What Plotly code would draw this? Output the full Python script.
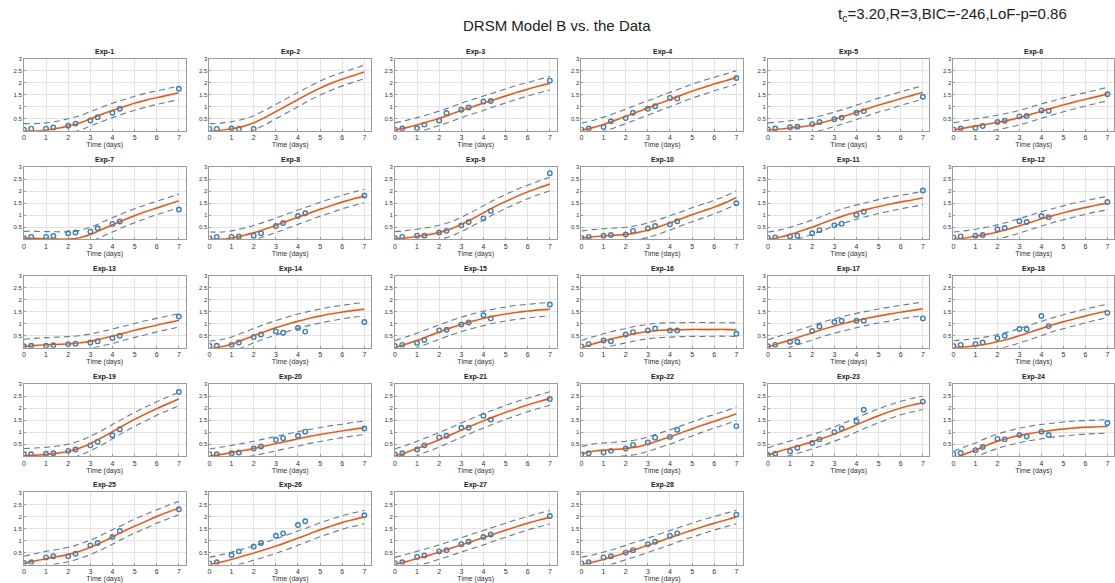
import plotly.graph_objects as go

# ---------------- data ----------------
T_DATA = [0, 0.33, 1, 1.33, 2, 2.33, 3, 3.33, 4, 4.33, 7]
T_MODEL = [0, 0.5, 1, 1.5, 2, 2.5, 3, 3.5, 4, 4.5, 5, 5.5, 6, 6.5, 7]
CI_HALF = [0.30, 0.30, 0.30, 0.30, 0.30, 0.30, 0.30, 0.30, 0.30, 0.29, 0.29, 0.29, 0.28, 0.28, 0.28]

EXP_NAMES = [f"Exp-{i}" for i in range(1, 29)]

obs_1 = [0.05, 0.09, 0.09, 0.14, 0.21, 0.30, 0.43, 0.57, 0.75, 0.92, 1.75]
obs_2 = [0.08, 0.08, 0.10, 0.08, 0.08]
obs_3 = [0.05, 0.10, 0.11, 0.26, 0.43, 0.74, 0.88, 0.97, 1.22, 1.24, 2.09]
obs_4 = [0.05, 0.10, 0.16, 0.40, 0.53, 0.75, 0.92, 1.02, 1.37, 1.35, 2.20]
obs_5 = [0.06, 0.10, 0.15, 0.17, 0.28, 0.37, 0.48, 0.55, 0.75, 0.82, 1.42]
obs_6 = [0.06, 0.10, 0.12, 0.20, 0.37, 0.42, 0.60, 0.62, 0.85, 0.83, 1.52]
obs_7 = [0.04, 0.10, 0.10, 0.14, 0.25, 0.28, 0.32, 0.46, 0.64, 0.74, 1.24]
obs_8 = [0.04, 0.10, 0.10, 0.12, 0.15, 0.25, 0.55, 0.68, 0.97, 1.08, 1.82]
obs_9 = [0.04, 0.10, 0.15, 0.15, 0.28, 0.35, 0.58, 0.72, 0.87, 1.18, 2.75]
obs_10 = [0.06, 0.10, 0.15, 0.18, 0.20, 0.35, 0.45, 0.55, 0.62, 0.75, 1.50]
obs_11 = [0.06, 0.08, 0.12, 0.15, 0.25, 0.38, 0.58, 0.65, 1.02, 1.15, 2.03]
obs_12 = [0.08, 0.12, 0.15, 0.18, 0.42, 0.47, 0.75, 0.72, 0.97, 0.92, 1.55]
obs_13 = [0.06, 0.08, 0.08, 0.10, 0.15, 0.17, 0.22, 0.27, 0.40, 0.50, 1.30]
obs_14 = [0.08, 0.08, 0.12, 0.22, 0.45, 0.55, 0.68, 0.62, 0.82, 0.67, 1.07]
obs_15 = [0.07, 0.12, 0.20, 0.32, 0.72, 0.75, 0.97, 1.05, 1.35, 1.22, 1.80]
obs_16 = [0.05, 0.15, 0.30, 0.27, 0.55, 0.65, 0.72, 0.80, 0.72, 0.72, 0.58]
obs_17 = [0.06, 0.12, 0.25, 0.25, 0.70, 0.88, 1.07, 1.12, 1.12, 1.12, 1.22]
obs_18 = [0.07, 0.12, 0.15, 0.22, 0.40, 0.50, 0.78, 0.77, 1.32, 0.90, 1.45]
obs_19 = [0.08, 0.08, 0.10, 0.12, 0.22, 0.28, 0.45, 0.60, 0.87, 1.12, 2.67]
obs_20 = [0.08, 0.08, 0.12, 0.15, 0.32, 0.40, 0.68, 0.75, 0.85, 1.02, 1.15]
obs_21 = [0.07, 0.12, 0.28, 0.45, 0.78, 0.85, 1.18, 1.18, 1.68, 1.52, 2.38]
obs_22 = [0.08, 0.12, 0.15, 0.22, 0.32, 0.47, 0.57, 0.77, 0.80, 1.10, 1.25]
obs_23 = [0.05, 0.10, 0.20, 0.35, 0.55, 0.70, 1.00, 1.15, 1.45, 1.93, 2.27]
obs_24 = [0.08, 0.13, 0.25, 0.38, 0.72, 0.70, 0.88, 0.82, 1.02, 0.88, 1.38]
obs_25 = [0.07, 0.10, 0.30, 0.35, 0.35, 0.45, 0.80, 0.90, 1.15, 1.40, 2.30]
obs_26 = [0.05, 0.10, 0.40, 0.55, 0.75, 0.90, 1.20, 1.30, 1.65, 1.80, 2.05]
obs_27 = [0.06, 0.10, 0.32, 0.38, 0.55, 0.60, 0.85, 0.95, 1.15, 1.25, 2.02]
obs_28 = [0.05, 0.10, 0.30, 0.35, 0.50, 0.60, 0.85, 0.95, 1.20, 1.30, 2.08]

mod_1 = [0.00, 0.00, 0.03, 0.10, 0.20, 0.32, 0.50, 0.68, 0.85, 1.00, 1.15, 1.27, 1.38, 1.48, 1.58]
mod_2 = [0.00, 0.02, 0.08, 0.18, 0.33, 0.55, 0.80, 1.05, 1.30, 1.55, 1.78, 1.98, 2.15, 2.30, 2.45]
mod_3 = [0.03, 0.13, 0.25, 0.38, 0.52, 0.68, 0.85, 1.00, 1.15, 1.30, 1.45, 1.60, 1.73, 1.86, 1.98]
mod_4 = [0.02, 0.13, 0.27, 0.43, 0.60, 0.78, 0.95, 1.13, 1.30, 1.48, 1.65, 1.80, 1.95, 2.08, 2.22]
mod_5 = [0.03, 0.07, 0.12, 0.17, 0.24, 0.35, 0.48, 0.62, 0.77, 0.92, 1.07, 1.20, 1.34, 1.47, 1.60]
mod_6 = [0.03, 0.12, 0.20, 0.27, 0.35, 0.44, 0.55, 0.68, 0.82, 0.95, 1.08, 1.20, 1.31, 1.42, 1.53]
mod_7 = [0.03, 0.03, 0.02, 0.01, 0.01, 0.06, 0.20, 0.40, 0.60, 0.80, 0.98, 1.15, 1.30, 1.45, 1.60]
mod_8 = [0.00, 0.00, 0.05, 0.15, 0.27, 0.42, 0.58, 0.75, 0.92, 1.08, 1.25, 1.40, 1.55, 1.68, 1.80]
mod_9 = [0.02, 0.06, 0.12, 0.19, 0.28, 0.42, 0.62, 0.85, 1.10, 1.35, 1.57, 1.78, 1.97, 2.14, 2.30]
mod_10 = [0.05, 0.10, 0.14, 0.17, 0.20, 0.27, 0.38, 0.52, 0.68, 0.85, 1.02, 1.18, 1.34, 1.52, 1.73]
mod_11 = [0.00, 0.08, 0.20, 0.35, 0.50, 0.68, 0.85, 1.00, 1.13, 1.25, 1.36, 1.46, 1.55, 1.63, 1.72]
mod_12 = [0.00, 0.05, 0.12, 0.20, 0.30, 0.42, 0.56, 0.70, 0.85, 0.98, 1.10, 1.22, 1.32, 1.42, 1.50]
mod_13 = [0.05, 0.09, 0.12, 0.14, 0.16, 0.20, 0.27, 0.37, 0.48, 0.60, 0.72, 0.83, 0.94, 1.04, 1.14]
mod_14 = [-0.03, 0.03, 0.15, 0.32, 0.50, 0.67, 0.83, 0.97, 1.10, 1.22, 1.32, 1.41, 1.48, 1.55, 1.60]
mod_15 = [0.00, 0.15, 0.30, 0.48, 0.65, 0.82, 0.97, 1.10, 1.22, 1.32, 1.40, 1.47, 1.52, 1.57, 1.60]
mod_16 = [0.00, 0.15, 0.28, 0.40, 0.50, 0.60, 0.67, 0.72, 0.74, 0.75, 0.76, 0.76, 0.76, 0.76, 0.75]
mod_17 = [0.03, 0.18, 0.32, 0.47, 0.62, 0.77, 0.90, 1.02, 1.13, 1.23, 1.32, 1.40, 1.48, 1.55, 1.62]
mod_18 = [0.00, 0.03, 0.08, 0.15, 0.25, 0.36, 0.50, 0.65, 0.80, 0.95, 1.08, 1.20, 1.32, 1.43, 1.53]
mod_19 = [0.02, 0.04, 0.07, 0.12, 0.20, 0.33, 0.52, 0.76, 1.02, 1.28, 1.53, 1.76, 1.98, 2.18, 2.38]
mod_20 = [0.00, 0.07, 0.15, 0.23, 0.32, 0.42, 0.52, 0.62, 0.72, 0.82, 0.90, 0.98, 1.05, 1.12, 1.18]
mod_21 = [0.00, 0.15, 0.32, 0.50, 0.68, 0.88, 1.08, 1.28, 1.47, 1.65, 1.82, 1.98, 2.13, 2.27, 2.40]
mod_22 = [0.10, 0.20, 0.25, 0.28, 0.32, 0.38, 0.50, 0.65, 0.80, 0.97, 1.13, 1.30, 1.45, 1.60, 1.76]
mod_23 = [0.05, 0.20, 0.33, 0.46, 0.60, 0.75, 0.92, 1.10, 1.30, 1.50, 1.68, 1.85, 2.00, 2.12, 2.22]
mod_24 = [-0.10, 0.08, 0.25, 0.45, 0.62, 0.75, 0.86, 0.95, 1.02, 1.08, 1.13, 1.17, 1.20, 1.22, 1.24]
mod_25 = [0.05, 0.15, 0.25, 0.33, 0.42, 0.55, 0.72, 0.92, 1.15, 1.38, 1.60, 1.80, 2.00, 2.18, 2.35]
mod_26 = [0.00, 0.10, 0.22, 0.35, 0.48, 0.62, 0.77, 0.93, 1.10, 1.27, 1.45, 1.60, 1.75, 1.87, 1.98]
mod_27 = [0.00, 0.12, 0.25, 0.38, 0.52, 0.67, 0.82, 0.97, 1.12, 1.28, 1.43, 1.58, 1.72, 1.85, 1.97]
mod_28 = [0.00, 0.10, 0.22, 0.35, 0.50, 0.65, 0.80, 0.96, 1.12, 1.28, 1.43, 1.58, 1.72, 1.85, 1.98]

OBS = [obs_1, obs_2, obs_3, obs_4, obs_5, obs_6, obs_7, obs_8, obs_9, obs_10, obs_11, obs_12, obs_13, obs_14,
       obs_15, obs_16, obs_17, obs_18, obs_19, obs_20, obs_21, obs_22, obs_23, obs_24, obs_25, obs_26, obs_27, obs_28]
MOD = [mod_1, mod_2, mod_3, mod_4, mod_5, mod_6, mod_7, mod_8, mod_9, mod_10, mod_11, mod_12, mod_13, mod_14,
       mod_15, mod_16, mod_17, mod_18, mod_19, mod_20, mod_21, mod_22, mod_23, mod_24, mod_25, mod_26, mod_27, mod_28]

Y_TICKS = [0.5, 1, 1.5, 2, 2.5, 3]
Y_TICK_LABELS = ["0.5", "1", "1.5", "2", "2.5", "3"]
X_TICKS = [0, 1, 2, 3, 4, 5, 6, 7]

MAIN_TITLE = "DRSM Model B vs. the Data"
STATS_TEXT = "t<sub>c</sub>=3.20,R=3,BIC=-246,LoF-p=0.86"

# ---------------- layout geometry ----------------
W, H = 1115, 583
COL_LEFT = [22, 208, 394, 581, 768, 954]
ROW_TOP = [56, 165, 274, 383, 492]
PW, PH = 162, 72.5
XMAX = 7.3
BAND = 0.06

fig = go.Figure()
layout_axes = {}
annotations = []

BLUE = "#3581b8"
ORANGE = "#d45a22"
DASH = "#6e7786"
FONT = "Liberation Sans, Arial, sans-serif"

for i, name in enumerate(EXP_NAMES):
    r, c = divmod(i, 6)
    k = i + 1
    xa = "x" if k == 1 else f"x{k}"
    ya = "y" if k == 1 else f"y{k}"
    x0 = COL_LEFT[c] / W
    x1 = min(1.0, (COL_LEFT[c] + PW) / W)
    y1 = 1 - ROW_TOP[r] / H
    y0 = 1 - (ROW_TOP[r] + PH) / H
    m = MOD[i]
    up = [v + h for v, h in zip(m, CI_HALF)]
    lo = [v - h for v, h in zip(m, CI_HALF)]
    bu = [v + BAND for v in m]
    bl = [v - BAND for v in m]
    obs = OBS[i]
    td = T_DATA[:len(obs)]

    fig.add_trace(go.Scatter(x=T_MODEL, y=bl, mode="lines", line=dict(width=0, shape="spline"),
                             xaxis=xa, yaxis=ya, showlegend=False, hoverinfo="skip"))
    fig.add_trace(go.Scatter(x=T_MODEL, y=bu, mode="lines", line=dict(width=0, shape="spline"),
                             fill="tonexty", fillcolor="rgba(245,190,150,0.35)",
                             xaxis=xa, yaxis=ya, showlegend=False, hoverinfo="skip"))
    fig.add_trace(go.Scatter(x=td, y=obs, mode="markers",
                             marker=dict(symbol="circle-open", size=4.5, color=BLUE, line=dict(width=1.4, color=BLUE)),
                             xaxis=xa, yaxis=ya, showlegend=False))
    fig.add_trace(go.Scatter(x=T_MODEL, y=m, mode="lines", line=dict(color=ORANGE, width=1.4, shape="spline"),
                             xaxis=xa, yaxis=ya, showlegend=False))
    for yy in (up, lo):
        fig.add_trace(go.Scatter(x=T_MODEL, y=yy, mode="lines",
                                 line=dict(color=DASH, width=1.1, dash="6px,4px", shape="spline"),
                                 xaxis=xa, yaxis=ya, showlegend=False))

    axname_x = "xaxis" if k == 1 else f"xaxis{k}"
    axname_y = "yaxis" if k == 1 else f"yaxis{k}"
    layout_axes[axname_x] = dict(
        domain=[x0, x1], anchor=ya, range=[0, XMAX], tickvals=X_TICKS,
        showgrid=True, gridcolor="#e3e3e3", gridwidth=1, zeroline=False,
        showline=True, linecolor="#9a9a9a", linewidth=1, mirror=True,
        ticks="inside", ticklen=2, tickcolor="#9a9a9a",
        tickfont=dict(size=7, color="#333333", family=FONT),
        title=dict(text="Time (days)", font=dict(size=7, color="#333333", family=FONT), standoff=1),
        fixedrange=True,
    )
    layout_axes[axname_y] = dict(
        domain=[y0, y1], anchor=xa, range=[0, 3], tickvals=Y_TICKS, ticktext=Y_TICK_LABELS,
        showgrid=True, gridcolor="#e3e3e3", gridwidth=1, zeroline=False,
        showline=True, linecolor="#9a9a9a", linewidth=1, mirror=True,
        ticks="inside", ticklen=2, tickcolor="#9a9a9a",
        tickfont=dict(size=6, color="#333333", family=FONT),
        fixedrange=True,
    )
    annotations.append(dict(
        text=f"<b>{name}</b>", x=(x0 + x1) / 2, y=y1, xref="paper", yref="paper",
        xanchor="center", yanchor="bottom", yshift=1, showarrow=False,
        font=dict(size=7, color="#222222", family=FONT),
    ))

annotations.append(dict(text=MAIN_TITLE, x=556 / W, y=1 - 23 / H, xref="paper", yref="paper",
                        xanchor="center", yanchor="middle", showarrow=False,
                        font=dict(size=15, color="#222222", family=FONT)))
annotations.append(dict(text=STATS_TEXT, x=953 / W, y=1 - 12 / H, xref="paper", yref="paper",
                        xanchor="center", yanchor="middle", showarrow=False,
                        font=dict(size=15, color="#222222", family=FONT)))

fig.update_layout(
    width=W, height=H, margin=dict(l=0, r=0, t=0, b=0),
    paper_bgcolor="white", plot_bgcolor="white",
    showlegend=False, annotations=annotations, **layout_axes,
)

fig.write_html("out.html", config={"displayModeBar": False})
